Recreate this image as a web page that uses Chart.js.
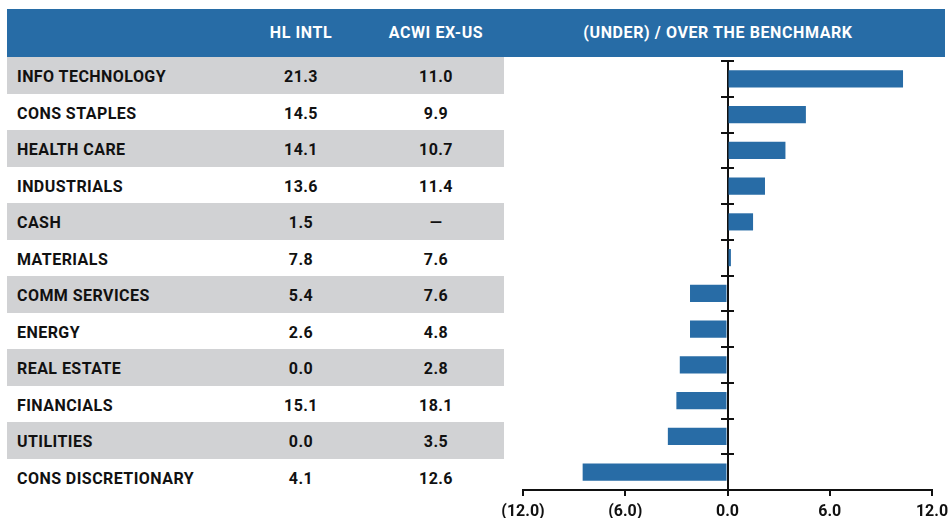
<!DOCTYPE html>
<html lang="en">
<head>
    <meta charset="UTF-8">
    <title>Sector Weights vs Benchmark</title>
    <script src="https://cdn.jsdelivr.net/npm/chart.js"></script>
    <style>
        body { margin: 0; width: 948px; height: 518px; position: relative; background: #fff;
               font-family: Roboto, "Noto Sans", sans-serif; font-weight: 700; color: #111; overflow: hidden; }
        .header { position: absolute; left: 7px; top: 9px; width: 938px; height: 48px; background: #276ca6; color: #fff; }
        .header div { position: absolute; top: 0; line-height: 48px; font-size: 16px; text-align: center; letter-spacing: 0.6px; }
        .row { position: absolute; left: 7px; width: 497px; height: 36.5px; line-height: 39px; font-size: 16px; letter-spacing: 0.45px; }
        .row.grey { background: #d1d2d4; }
        .row div { position: absolute; top: 0; }
        #chartBox { position: absolute; left: 491px; top: 50px; width: 469px; height: 470px; }
    </style>
</head>
<body>
    <div class="header">
        <div style="left:234px;width:120px">HL INTL</div>
        <div style="left:369px;width:120px">ACWI EX-US</div>
        <div style="left:561px;width:300px">(UNDER) / OVER THE BENCHMARK</div>
    </div>
    <div id="table"></div>
    <div id="chartBox"><canvas id="diffChart" width="469" height="470"></canvas></div>

    <script>
        // sectors, top to bottom
        var sectors = ['INFO TECHNOLOGY', 'CONS STAPLES', 'HEALTH CARE', 'INDUSTRIALS', 'CASH', 'MATERIALS',
                       'COMM SERVICES', 'ENERGY', 'REAL ESTATE', 'FINANCIALS', 'UTILITIES', 'CONS DISCRETIONARY'];
        // portfolio weights (%)
        var hlIntl = ['21.3', '14.5', '14.1', '13.6', '1.5', '7.8', '5.4', '2.6', '0.0', '15.1', '0.0', '4.1'];
        // benchmark weights (%)
        var acwiExUs = ['11.0', '9.9', '10.7', '11.4', '\u2014', '7.6', '7.6', '4.8', '2.8', '18.1', '3.5', '12.6'];
        // (under) / over the benchmark
        var overUnder = [10.3, 4.6, 3.4, 2.2, 1.5, 0.2, -2.2, -2.2, -2.8, -3.0, -3.5, -8.5];
        // x axis ticks
        var xTicks = [-12, -6, 0, 6, 12];

        // build the table on the left
        var table = document.getElementById('table');
        sectors.forEach(function (name, i) {
            var row = document.createElement('div');
            row.className = 'row' + (i % 2 === 0 ? ' grey' : '');
            row.style.top = (57 + i * 36.5) + 'px';
            row.innerHTML = '<div style="left:10px">' + name + '</div>' +
                '<div style="left:234px;width:120px;text-align:center">' + hlIntl[i] + '</div>' +
                '<div style="left:369px;width:120px;text-align:center">' + acwiExUs[i] + '</div>';
            table.appendChild(row);
        });

        function fmt(v) {
            return v < 0 ? '(' + Math.abs(v).toFixed(1) + ')' : v.toFixed(1);
        }

        Chart.defaults.font.family = 'Roboto, "Noto Sans", sans-serif';
        Chart.defaults.font.weight = 'bold';
        Chart.defaults.font.size = 16;
        Chart.defaults.color = '#111';

        var ctx = document.getElementById('diffChart').getContext('2d');
        var myChart = new Chart(ctx, {
            type: 'bar',
            data: {
                labels: sectors,
                datasets: [{
                    data: overUnder,
                    backgroundColor: '#286ca6',
                    categoryPercentage: 1,
                    barPercentage: 0.48
                }]
            },
            options: {
                indexAxis: 'y',
                responsive: false,
                animation: false,
                layout: { autoPadding: false, padding: { left: 32, right: 28, top: 11, bottom: 0 } },
                plugins: { legend: { display: false }, tooltip: { enabled: false } },
                scales: {
                    x: {
                        min: -12,
                        max: 12,
                        afterBuildTicks: function (scale) {
                            scale.ticks = xTicks.map(function (v) { return { value: v }; });
                        },
                        afterFit: function (scale) { scale.height = 30; },
                        ticks: { padding: 6, callback: function (v) { return fmt(v); } },
                        grid: { drawOnChartArea: false, tickLength: 6, color: '#111', lineWidth: 2 },
                        border: { color: '#111', width: 2 }
                    },
                    y: {
                        position: { x: 0 },
                        offset: true,
                        ticks: { display: false },
                        grid: { offset: true, drawOnChartArea: false, tickLength: 6, color: '#111', lineWidth: 2 },
                        border: { color: '#111', width: 2 }
                    },
                    y2: {
                        type: 'category',
                        position: { x: 0 },
                        offset: true,
                        ticks: { display: false },
                        grid: { offset: true, drawOnChartArea: false, tickLength: -6, color: '#111', lineWidth: 2 },
                        border: { display: false }
                    }
                }
            }
        });
    </script>
</body>
</html>
